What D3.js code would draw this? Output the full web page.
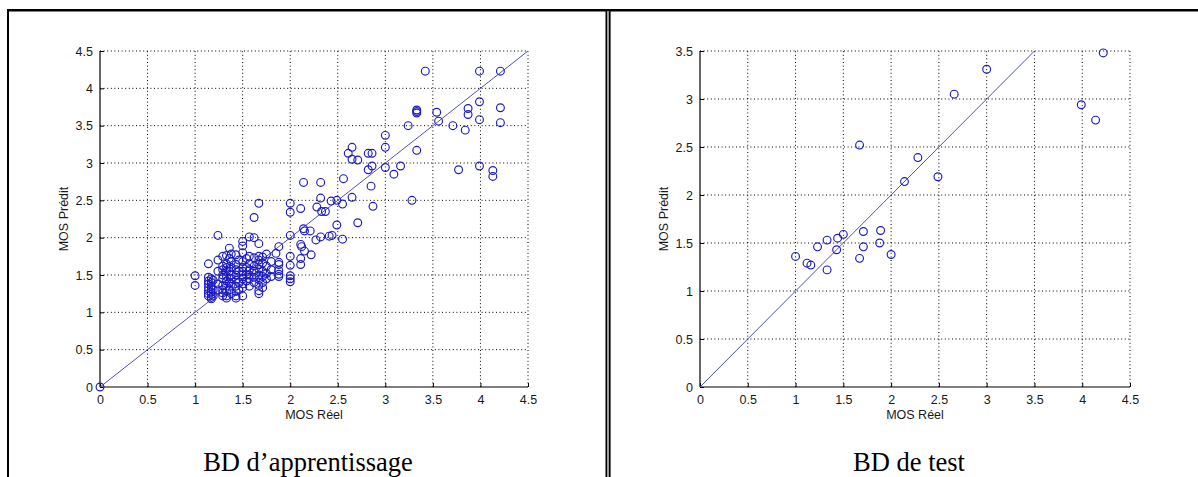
<!DOCTYPE html>
<html><head><meta charset="utf-8">
<script src="https://cdn.jsdelivr.net/npm/d3@7"></script>
<style>html,body{margin:0;padding:0;background:#fff;}svg{display:block;}</style>
</head><body>
<svg id="c" width="1198" height="477"></svg>
<script>
// ---------- data ----------
const xTicks = [0,0.5,1,1.5,2,2.5,3,3.5,4,4.5];
const yTicksTrain = [0,0.5,1,1.5,2,2.5,3,3.5,4,4.5];
const yTicksTest = [0,0.5,1,1.5,2,2.5,3,3.5];
const xTitle = "MOS Réel";
const yTitle = "MOS Prédit";
const captions = ["BD d’apprentissage", "BD de test"];

// Training set: [MOS réel, MOS prédit]
const trainUpper = [
 [3.42,4.23],[3.99,4.23],[4.21,4.23],
 [3.33,3.71],[3.33,3.69],[3.33,3.67],[3.54,3.68],[3.56,3.56],
 [3.87,3.73],[3.87,3.65],[3.99,3.82],[3.99,3.58],[4.21,3.74],[4.21,3.54],
 [3.71,3.50],[3.84,3.44],[3.24,3.50],[3.33,3.17],
 [3.00,3.37],[3.00,3.21],[3.00,2.94],[3.16,2.96],[3.09,2.85],
 [3.77,2.91],[3.99,2.96],[4.13,2.90],[4.13,2.82],[3.28,2.50],
 [2.65,3.21],[2.61,3.13],[2.65,3.05],[2.71,3.04],[2.82,3.13],[2.86,3.13],
 [2.82,2.91],[2.86,2.96],[2.85,2.69],[2.87,2.42],
 [2.56,2.79],[2.65,2.54],[2.55,2.45],[2.49,2.50],[2.43,2.49],
 [2.32,2.74],[2.14,2.74],[2.32,2.53],[2.28,2.41],[2.33,2.35],[2.37,2.35],
 [2.11,2.39],[2.00,2.46],[2.00,2.34],[2.71,2.20],[2.49,2.17],
 [2.55,1.98],[2.41,2.02],[2.44,2.03],[2.27,1.97],[2.32,2.01],
 [2.14,2.12],[2.15,2.09],[2.21,2.09],[2.00,2.03],
 [2.11,1.91],[2.12,1.88],[2.15,1.82],[2.22,1.77],[2.11,1.72],[2.11,1.64],
 [2.00,1.75],[2.00,1.63],[2.00,1.49],[2.00,1.45],[2.00,1.41],
 [1.88,1.88],[1.85,1.79],[1.88,1.67],[1.88,1.64],[1.88,1.56],[1.88,1.51],[1.88,1.48],
 [0,0]
];
const trainCluster = [
 [1.00,1.49],[1.00,1.36],
 [1.14,1.65],[1.14,1.47],[1.14,1.42],[1.14,1.38],[1.14,1.33],[1.14,1.29],[1.14,1.25],[1.14,1.22],
 [1.17,1.45],[1.17,1.40],[1.17,1.35],[1.17,1.31],[1.17,1.27],[1.17,1.24],[1.17,1.20],[1.17,1.18],
 [1.19,1.43],[1.19,1.30],[1.19,1.22],
 [1.24,2.03],[1.24,1.70],[1.24,1.55],[1.24,1.38],[1.24,1.30],
 [1.29,1.75],[1.29,1.62],[1.29,1.57],[1.29,1.50],[1.29,1.45],[1.29,1.36],[1.29,1.30],[1.29,1.26],[1.29,1.22],
 [1.33,1.76],[1.33,1.65],[1.33,1.60],[1.33,1.55],[1.33,1.48],[1.33,1.42],[1.33,1.35],[1.33,1.28],[1.33,1.22],[1.33,1.19],
 [1.36,1.86],[1.36,1.72],[1.36,1.55],[1.36,1.40],[1.36,1.30],
 [1.38,1.78],[1.38,1.68],[1.38,1.60],[1.38,1.50],[1.38,1.45],[1.38,1.38],[1.38,1.25],
 [1.43,1.77],[1.43,1.64],[1.43,1.57],[1.43,1.50],[1.43,1.43],[1.43,1.35],[1.43,1.28],[1.43,1.22],[1.43,1.19],
 [1.46,1.70],[1.46,1.55],[1.46,1.40],[1.46,1.30],
 [1.50,1.95],[1.50,1.89],[1.50,1.80],[1.50,1.68],[1.50,1.60],[1.50,1.55],[1.50,1.50],[1.50,1.45],[1.50,1.38],[1.50,1.33],[1.50,1.22],
 [1.54,1.72],[1.54,1.60],[1.54,1.50],[1.54,1.42],
 [1.57,2.01],[1.57,1.75],[1.57,1.65],[1.57,1.57],[1.57,1.50],[1.57,1.45],[1.57,1.35],
 [1.62,2.27],[1.62,2.00],[1.62,1.73],[1.62,1.62],[1.62,1.55],[1.62,1.47],[1.62,1.40],
 [1.67,2.46],[1.67,1.92],[1.67,1.75],[1.67,1.70],[1.67,1.64],[1.67,1.58],[1.67,1.50],[1.67,1.44],[1.67,1.36],[1.67,1.29],[1.67,1.25],
 [1.71,1.74],[1.71,1.66],[1.71,1.55],[1.71,1.48],[1.71,1.40],[1.71,1.33],
 [1.75,1.78],[1.75,1.62],[1.75,1.52],[1.75,1.45],
 [1.80,1.68],[1.80,1.57],[1.80,1.48]
];
// Test set: [MOS réel, MOS prédit]
const testPoints = [
 [4.22,3.48],[3.00,3.31],[2.66,3.05],[3.99,2.94],[4.14,2.78],
 [1.67,2.52],[2.28,2.39],[2.49,2.19],[2.14,2.14],
 [1.71,1.62],[1.89,1.63],[1.50,1.59],[1.44,1.55],[1.33,1.53],[1.23,1.46],
 [1.71,1.46],[1.88,1.50],[1.43,1.43],[2.00,1.38],[1.67,1.34],
 [1.00,1.36],[1.12,1.29],[1.16,1.27],[1.33,1.22]
];
const trainLine = [0,4.5];
const testLine = [0,3.5];

// ---------- drawing ----------
const svg = d3.select("#c");
const sansFont = "'Liberation Sans', Arial, sans-serif";
const serifFont = "'Liberation Serif', 'Times New Roman', serif";

// table frame
svg.append("rect").attr("x",7).attr("y",9).attr("width",1191).attr("height",2.5).attr("fill","#000");
svg.append("rect").attr("x",7).attr("y",9).attr("width",2).attr("height",468).attr("fill","#000");
svg.append("rect").attr("x",605.5).attr("y",9).attr("width",1.6).attr("height",468).attr("fill","#000");
svg.append("rect").attr("x",609).attr("y",9).attr("width",1.6).attr("height",468).attr("fill","#000");
svg.append("rect").attr("x",607.1).attr("y",11).attr("width",1.9).attr("height",466).attr("fill","#9a9a9a");

function panel(cfg){
  const g = svg.append("g");
  const x = d3.scaleLinear().domain([0,4.5]).range([cfg.x0,cfg.x1]);
  const y = d3.scaleLinear().domain([0,cfg.ymax]).range([cfg.yb,cfg.yt]);
  // grid
  g.selectAll(".gx").data(xTicks.filter(d=>d>0)).join("line")
    .attr("x1",d=>x(d)).attr("x2",d=>x(d)).attr("y1",cfg.yb).attr("y2",cfg.yt)
    .attr("stroke","#000").attr("stroke-width",1).attr("stroke-dasharray","1,2.6");
  g.selectAll(".gy").data(cfg.yTicks.filter(d=>d>0)).join("line")
    .attr("y1",d=>y(d)).attr("y2",d=>y(d)).attr("x1",cfg.x0).attr("x2",cfg.x1)
    .attr("stroke","#000").attr("stroke-width",1).attr("stroke-dasharray","1,2.6");
  // axes
  const xa = d3.axisBottom(x).tickValues(xTicks).tickSize(-4).tickPadding(8).tickFormat(d3.format("~g"));
  const ya = d3.axisLeft(y).tickValues(cfg.yTicks).tickSize(-4).tickPadding(7).tickFormat(d3.format("~g"));
  const gx = g.append("g").attr("transform",`translate(0,${cfg.yb})`).call(xa);
  const gy = g.append("g").attr("transform",`translate(${cfg.x0},0)`).call(ya);
  [gx,gy].forEach(a=>{
    a.select(".domain").remove();
    a.selectAll(".tick line").attr("stroke","#000");
    a.selectAll("text").attr("font-family",sansFont).attr("font-size","12.5px").attr("fill","#1a1a1a");
  });
  g.append("line").attr("x1",cfg.x0).attr("x2",cfg.x1).attr("y1",cfg.yb).attr("y2",cfg.yb).attr("stroke","#000").attr("stroke-width",1.2);
  g.append("line").attr("x1",cfg.x0).attr("x2",cfg.x0).attr("y1",cfg.yb).attr("y2",cfg.yt).attr("stroke","#000").attr("stroke-width",1.2);
  // identity line
  g.append("line").attr("x1",x(cfg.line[0])).attr("y1",y(cfg.line[0]))
    .attr("x2",x(cfg.line[1])).attr("y2",y(cfg.line[1]))
    .attr("stroke","#5252b8").attr("stroke-width",1);
  // points
  g.selectAll(".pt").data(cfg.points).join("circle")
    .attr("cx",d=>x(d[0])).attr("cy",d=>y(d[1])).attr("r",3.9)
    .attr("fill","none").attr("stroke","#1c1cc0").attr("stroke-width",1.15);
  // titles
  g.append("text").attr("x",(cfg.x0+cfg.x1)/2).attr("y",cfg.yb+32).attr("text-anchor","middle")
    .attr("font-family",sansFont).attr("font-size","12.5px").attr("fill","#1a1a1a").text(xTitle);
  g.append("text").attr("transform",`translate(${cfg.x0-32},${(cfg.yb+cfg.yt)/2}) rotate(-90)`)
    .attr("text-anchor","middle").attr("font-family",sansFont).attr("font-size","12.5px").attr("fill","#1a1a1a").text(yTitle);
  g.append("text").attr("x",(cfg.x0+cfg.x1)/2-6).attr("y",471).attr("text-anchor","middle")
    .attr("font-family",serifFont).attr("font-size","26.5px").attr("fill","#000").text(cfg.caption);
}

panel({x0:100,x1:528,yt:51,yb:387,ymax:4.5,yTicks:yTicksTrain,points:trainUpper.concat(trainCluster),line:trainLine,caption:captions[0]});
panel({x0:700,x1:1130,yt:51,yb:387,ymax:3.5,yTicks:yTicksTest,points:testPoints,line:testLine,caption:captions[1]});
</script>
</body></html>
